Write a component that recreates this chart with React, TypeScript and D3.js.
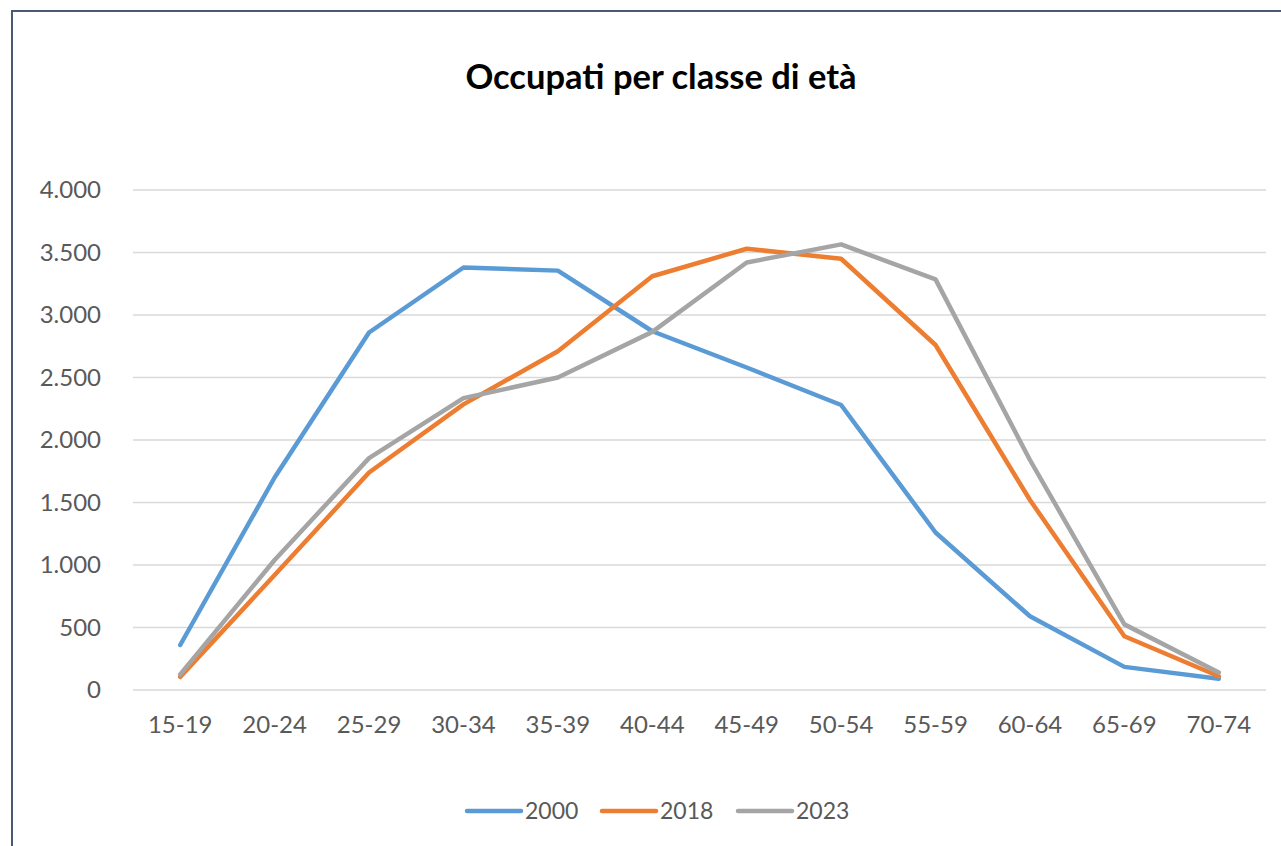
import * as React from 'react';
import * as d3 from 'd3';

const ageGroups = ['15-19', '20-24', '25-29', '30-34', '35-39', '40-44', '45-49', '50-54', '55-59', '60-64', '65-69', '70-74'];
const series2000 = [360, 1700, 2860, 3380, 3355, 2870, 2580, 2280, 1260, 590, 185, 90];
const series2018 = [105, 920, 1740, 2285, 2710, 3310, 3530, 3450, 2760, 1520, 430, 110];
const series2023 = [125, 1040, 1855, 2335, 2500, 2865, 3420, 3565, 3285, 1840, 525, 140];
const seriesNames = ['2000', '2018', '2023'];
const yTicks = [0, 500, 1000, 1500, 2000, 2500, 3000, 3500, 4000];

const colors = ['#5B9BD5', '#ED7D31', '#A5A5A5'];
const W = 1281;
const H = 846;
const margin = { left: 133, right: 15, top: 190, bottom: 156 };
const font = 'Lato, "Open Sans", sans-serif';

const fmt = (v: number) => d3.format(',')(v).replace(/,/g, '.');

export default function App() {
  const x = d3.scaleBand().domain(ageGroups).range([margin.left, W - margin.right]);
  const y = d3.scaleLinear().domain([0, 4000]).range([H - margin.bottom, margin.top]);
  const line = d3.line<number>()
    .x((_, i) => (x(ageGroups[i]) as number) + x.bandwidth() / 2)
    .y(d => y(d));
  const all = [series2000, series2018, series2023];

  const legendX = [467, 602, 738];

  return (
    <svg width={W} height={H} style={{ position: 'absolute', left: 0, top: 0, background: '#fff' }}>
      <rect x={12} y={11} width={W + 20} height={H + 20} fill="#fff" stroke="#4A5A72" strokeWidth={2} />
      <text x={661} y={89} textAnchor="middle" fontFamily={font} fontWeight="bold" fontSize={34.5} fill="#000">
        Occupati per classe di età
      </text>
      {yTicks.map(t => (
        <g key={t}>
          <line x1={margin.left} x2={W - margin.right} y1={y(t)} y2={y(t)} stroke="#D9D9D9" strokeWidth={1.5} />
          <text x={101} y={y(t)} dy="0.35em" textAnchor="end" fontFamily={font} fontSize={24} fill="#595959">
            {fmt(t)}
          </text>
        </g>
      ))}
      {ageGroups.map(g => (
        <text key={g} x={(x(g) as number) + x.bandwidth() / 2} y={725} dy="0.35em" textAnchor="middle"
          fontFamily={font} fontSize={24} fill="#595959">
          {g}
        </text>
      ))}
      {all.map((s, i) => (
        <path key={i} d={line(s) || ''} fill="none" stroke={colors[i]} strokeWidth={4.5}
          strokeLinejoin="round" strokeLinecap="round" />
      ))}
      {seriesNames.map((n, i) => (
        <g key={n}>
          <line x1={legendX[i]} x2={legendX[i] + 54} y1={811} y2={811} stroke={colors[i]} strokeWidth={4.5} strokeLinecap="round" />
          <text x={legendX[i] + 58} y={811} dy="0.35em" fontFamily={font} fontSize={23} fill="#595959">{n}</text>
        </g>
      ))}
    </svg>
  );
}
